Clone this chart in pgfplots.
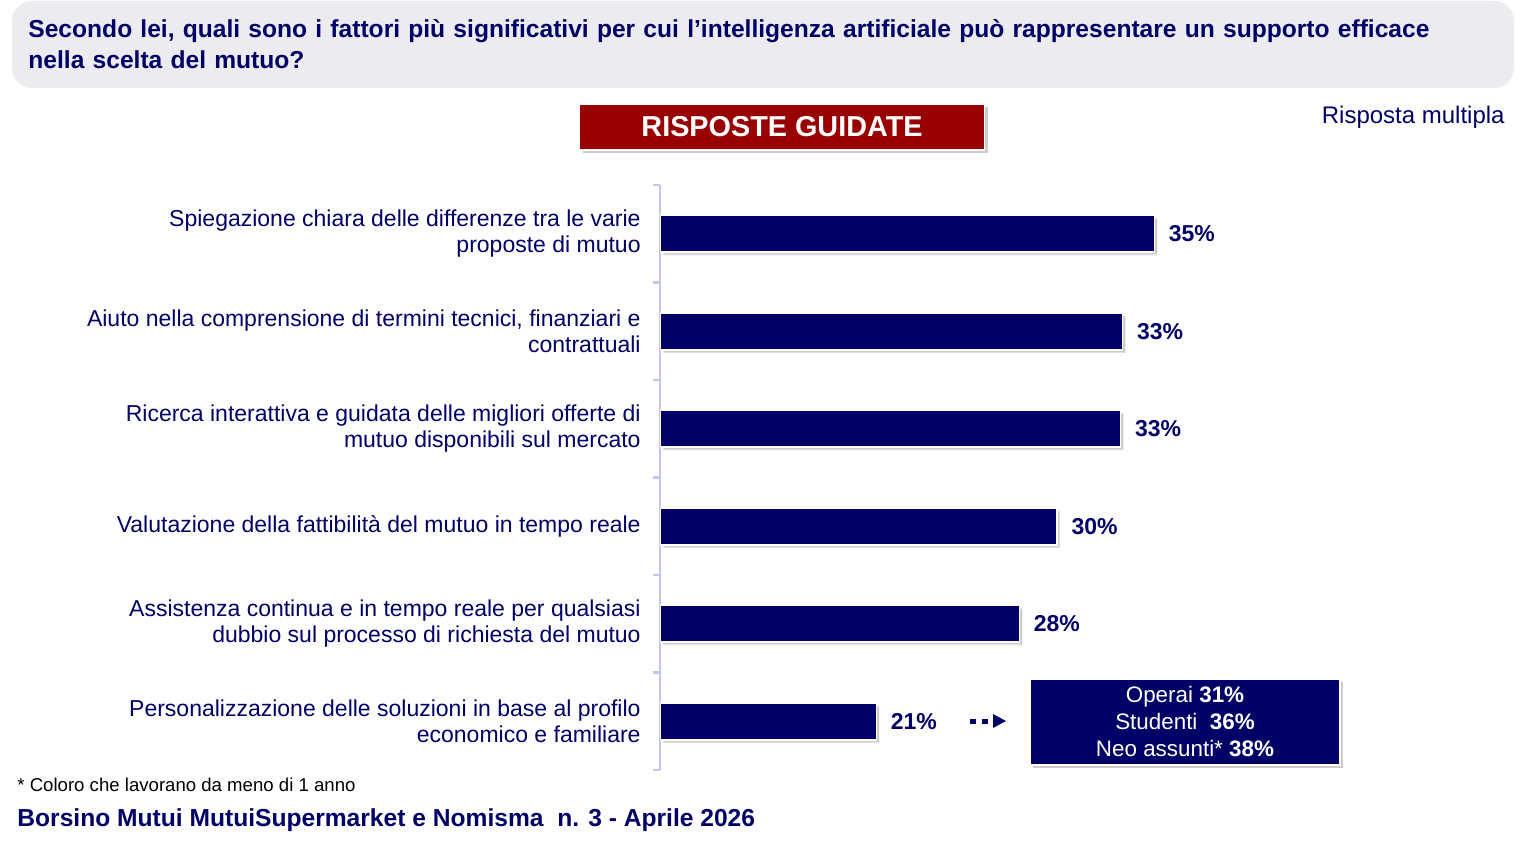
\documentclass[border=0pt]{standalone}
\usepackage{fontspec}
\setmainfont{Liberation Sans}
\usepackage{pgfplots}
\pgfplotsset{compat=1.18}
\usetikzlibrary{shadows}
\definecolor{navy}{HTML}{000066}
\definecolor{boxred}{HTML}{990000}
\definecolor{lav}{HTML}{C4C4F4}
\definecolor{titlebg}{HTML}{EBEBF0}

\pgfplotstableread{
c v m
0 34.9 35
1 33.3 33
2 33.2 33
3 30.0 30
4 28.1 28
5 20.9 21
}\risposte

\begin{document}
\begin{tikzpicture}[x=0.5pt,y=-0.5pt]
\path[use as bounding box] (0,0) rectangle (1532,850);

% domanda
\fill[titlebg, rounded corners=10pt] (12,1) rectangle (1514,88);
\node[anchor=north west, text width=755pt, align=left, inner sep=0pt,
      font=\bfseries\fontsize{12.3}{15.5}\selectfont, text=navy] at (28,19)
  {Secondo lei, quali sono i fattori più significativi per cui l’intelligenza artificiale può rappresentare un supporto efficace\\nella scelta del mutuo?};

% etichetta
\node[fill=boxred, draw=white, line width=0.8pt, minimum width=202.5pt, minimum height=23pt,
      drop shadow={opacity=0.4, shadow xshift=1.5pt, shadow yshift=-1.5pt},
      text=white, font=\bfseries\fontsize{14.4}{16}\selectfont] at (782,127) {RISPOSTE GUIDATE};
\node[anchor=east, inner sep=0pt, text=navy, font=\fontsize{12}{14}\selectfont] at (1505,117) {Risposta multipla};

\begin{axis}[
    at={(330pt,-385pt)}, anchor=south west,
    scale only axis, width=347.5pt, height=292.5pt,
    xmin=10, xmax=45, ymin=-0.5, ymax=5.5, y dir=reverse,
    axis x line=none, axis y line=left,
    y axis line style={-, draw=lav, line width=1.2pt},
    ytick={-0.5,0.5,1.5,2.5,3.5,4.5,5.5},
    y tick label as interval,
    yticklabels={
      {Spiegazione chiara delle differenze tra le varie\\proposte di mutuo},
      {Aiuto nella comprensione di termini tecnici, finanziari e\\contrattuali},
      {Ricerca interattiva e guidata delle migliori offerte di\\mutuo disponibili sul mercato},
      {Valutazione della fattibilità del mutuo in tempo reale},
      {Assistenza continua e in tempo reale per qualsiasi\\dubbio sul processo di richiesta del mutuo},
      {Personalizzazione delle soluzioni in base al profilo\\economico e familiare}},
    yticklabel style={align=right, inner sep=0pt, text=navy,
      font=\fontsize{11.5}{13}\selectfont, xshift=-6pt},
    tick align=outside, major tick length=3.5pt,
    major tick style={draw=lav, line width=1.2pt},
]
\addplot[xbar, bar width=18.5pt, bar shift=0pt, fill=navy, draw=white, line width=0.8pt,
    drop shadow={opacity=0.4, shadow xshift=1.5pt, shadow yshift=-1.5pt},
    point meta=explicit,
    nodes near coords={\pgfmathprintnumber[fixed,precision=0,assume math mode=true]{\pgfplotspointmeta}\%},
    nodes near coords style={anchor=west, text=navy, xshift=3.5pt,
      font=\bfseries\fontsize{11.5}{13}\selectfont}]
  table[x=v, y=c, meta=m] {\risposte};
\end{axis}

% dettaglio
\draw[navy, line width=2.5pt, dash pattern=on 3pt off 3pt] (970,721) -- (991,721);
\fill[navy] (993,714) -- (1006,721) -- (993,728) -- cycle;
\node[fill=navy, draw=white, line width=0.8pt, minimum width=155pt, minimum height=43pt,
      drop shadow={opacity=0.4, shadow xshift=1.5pt, shadow yshift=-1.5pt},
      text=white, align=center, inner sep=0pt, font=\fontsize{11.2}{13.5}\selectfont] at (1185,722)
  {Operai \textbf{31\%}\\Studenti\ \ \textbf{36\%}\\Neo assunti* \textbf{38\%}};

% note
\node[anchor=west, inner sep=0pt, font=\fontsize{9.3}{11}\selectfont] at (17,785) {* Coloro che lavorano da meno di 1 anno};
\node[anchor=west, inner sep=0pt, text=navy, font=\bfseries\fontsize{12.3}{14}\selectfont] at (17,820) {Borsino Mutui MutuiSupermarket e Nomisma\ \ n. 3 - Aprile 2026};
\end{tikzpicture}
\end{document}
